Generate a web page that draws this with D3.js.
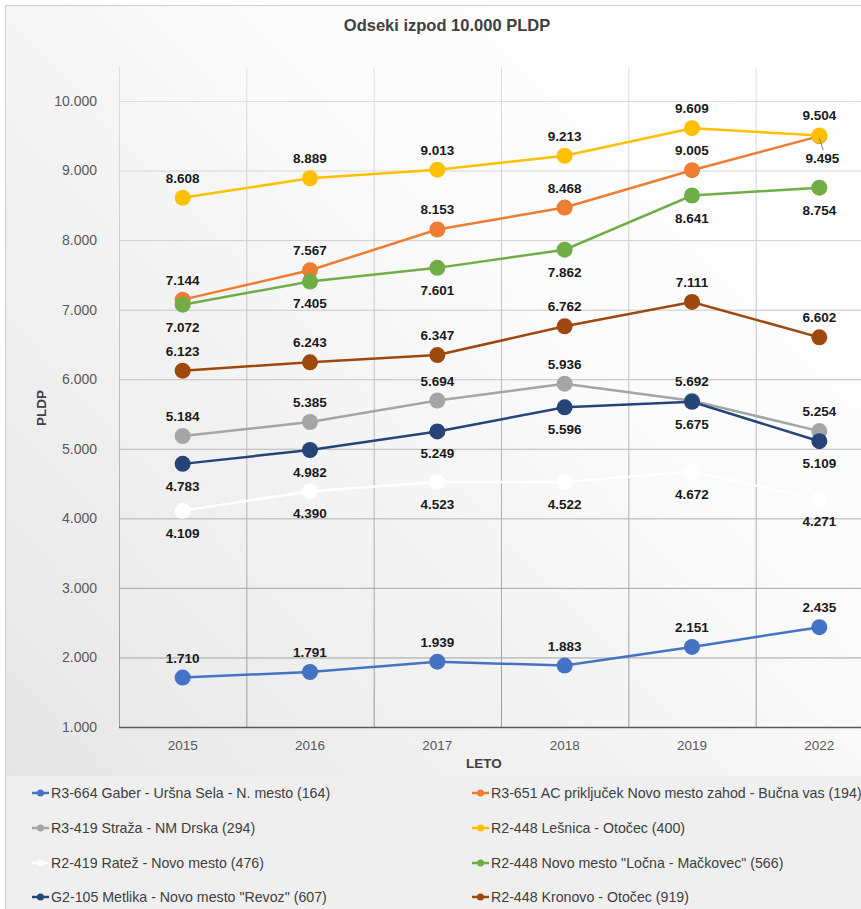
<!DOCTYPE html>
<html>
<head>
<meta charset="utf-8">
<script src="https://cdn.jsdelivr.net/npm/d3@7"></script>
<style>
  body { margin: 0; background: #fff; }
  svg { display: block; font-family: "Liberation Sans", Arial, sans-serif; }
</style>
</head>
<body>
<svg id="chart" width="861" height="909"></svg>
<script>
// data
var years = ["2015", "2016", "2017", "2018", "2019", "2022"];
var yTicks = [1000, 2000, 3000, 4000, 5000, 6000, 7000, 8000, 9000, 10000];

var gaberUrsna   = [1710, 1791, 1939, 1883, 2151, 2435];
var acPrikljucek = [7144, 7567, 8153, 8468, 9005, 9495];
var strazaDrska  = [5184, 5385, 5694, 5936, 5692, 5254];
var lesnica      = [8608, 8889, 9013, 9213, 9609, 9504];
var ratez        = [4109, 4390, 4523, 4522, 4672, 4271];
var locna        = [7072, 7405, 7601, 7862, 8641, 8754];
var metlika      = [4783, 4982, 5249, 5596, 5675, 5109];
var kronovo      = [6123, 6243, 6347, 6762, 7111, 6602];

var seriesNames = [
  "R3-664 Gaber - Uršna Sela - N. mesto (164)",
  "R3-651 AC priključek Novo mesto zahod - Bučna vas (194)",
  "R3-419 Straža - NM Drska (294)",
  "R2-448 Lešnica - Otočec (400)",
  "R2-419 Ratež - Novo mesto (476)",
  "R2-448 Novo mesto \"Ločna - Mačkovec\" (566)",
  "G2-105 Metlika - Novo mesto \"Revoz\" (607)",
  "R2-448 Kronovo - Otočec (919)"
];
var seriesColors = ["#4472c4", "#ed7d31", "#a5a5a5", "#ffc000", "#ffffff", "#70ad47", "#264478", "#9e480e"];
var seriesValues = [gaberUrsna, acPrikljucek, strazaDrska, lesnica, ratez, locna, metlika, kronovo];
// label above (-1) or below (+1) the point
var labelSide = [-1, -1, -1, -1, 1, 1, 1, -1];

var svg = d3.select("#chart");
var fmt = function(v) { return d3.format(",.3f")(v / 1000).replace(/,/g, ""); };
var fmtTick = function(v) { return d3.format(",.3f")(v / 1000); };

// background gradients
var defs = svg.append("defs");
var bg = defs.append("linearGradient").attr("id", "bg")
    .attr("x1", "100%").attr("y1", "0%").attr("x2", "0%").attr("y2", "100%");
bg.append("stop").attr("offset", "0%").attr("stop-color", "#ffffff");
bg.append("stop").attr("offset", "35%").attr("stop-color", "#fbfbfb");
bg.append("stop").attr("offset", "100%").attr("stop-color", "#e3e3e3");

var gridGrad = defs.append("linearGradient").attr("id", "gridv")
    .attr("gradientUnits", "userSpaceOnUse")
    .attr("x1", 0).attr("y1", 67).attr("x2", 0).attr("y2", 727);
gridGrad.append("stop").attr("offset", "0%").attr("stop-color", "#e0e0e0");
gridGrad.append("stop").attr("offset", "100%").attr("stop-color", "#9a9a9a");

svg.append("rect")
    .attr("x", 5.5).attr("y", 5.5).attr("width", 880).attr("height", 920)
    .attr("fill", "url(#bg)").attr("stroke", "#d0d0d0");

// legend band
svg.append("rect")
    .attr("x", 6).attr("y", 776).attr("width", 870).attr("height", 140)
    .attr("fill", "#efefef");

var x = d3.scaleBand().domain(years).range([119, 883]).padding(0);
var y = d3.scaleLinear().domain([1000, 10000]).range([727, 101]);

// gridlines
var gridColor = d3.scaleLinear().domain([101, 727]).range(["#dedede", "#9a9a9a"]);
svg.append("g").selectAll("line.h")
    .data(yTicks.slice(1))
  .enter().append("line")
    .attr("x1", 119).attr("x2", 870)
    .attr("y1", function(d) { return y(d) + 0.5; })
    .attr("y2", function(d) { return y(d) + 0.5; })
    .attr("stroke", function(d) { return gridColor(y(d)); })
    .attr("stroke-width", 1);

svg.append("g").selectAll("line.v")
    .data(years)
  .enter().append("line")
    .attr("x1", function(d) { return x(d) + 0.5; })
    .attr("x2", function(d) { return x(d) + 0.5; })
    .attr("y1", 67).attr("y2", 727)
    .attr("stroke", "url(#gridv)").attr("stroke-width", 1);
svg.append("line")
    .attr("x1", x("2022") + x.bandwidth() + 0.5).attr("x2", x("2022") + x.bandwidth() + 0.5)
    .attr("y1", 67).attr("y2", 727)
    .attr("stroke", "url(#gridv)");

// x axis line
svg.append("line")
    .attr("x1", 119).attr("x2", 870).attr("y1", 727.5).attr("y2", 727.5)
    .attr("stroke", "#595959").attr("stroke-width", 1.3);

// y tick labels
svg.append("g").selectAll("text")
    .data(yTicks)
  .enter().append("text")
    .attr("x", 97).attr("y", function(d) { return y(d); })
    .attr("dy", "0.35em").attr("text-anchor", "end")
    .attr("font-size", 14).attr("fill", "#595959")
    .text(fmtTick);

// x tick labels
svg.append("g").selectAll("text")
    .data(years)
  .enter().append("text")
    .attr("x", function(d) { return x(d) + x.bandwidth() / 2; })
    .attr("y", 750).attr("text-anchor", "middle")
    .attr("font-size", 13.5).attr("fill", "#595959")
    .text(function(d) { return d; });

// titles
svg.append("text")
    .attr("x", 447).attr("y", 31).attr("text-anchor", "middle")
    .attr("font-size", 16.5).attr("font-weight", "bold").attr("fill", "#404040")
    .text("Odseki izpod 10.000 PLDP");

svg.append("text")
    .attr("x", 484).attr("y", 768).attr("text-anchor", "middle")
    .attr("font-size", 13.5).attr("font-weight", "bold").attr("fill", "#404040")
    .text("LETO");

svg.append("text")
    .attr("transform", "translate(46,408) rotate(-90)")
    .attr("text-anchor", "middle")
    .attr("font-size", 13.5).attr("font-weight", "bold").attr("fill", "#404040")
    .text("PLDP");

var line = d3.line()
    .x(function(d, i) { return x(years[i]) + x.bandwidth() / 2; })
    .y(function(d) { return y(d); });

// lines and markers
seriesValues.forEach(function(vals, s) {
  var g = svg.append("g");
  g.append("path")
      .datum(vals)
      .attr("fill", "none")
      .attr("stroke", seriesColors[s])
      .attr("stroke-width", 2.5)
      .attr("d", line);
  g.selectAll("circle")
      .data(vals)
    .enter().append("circle")
      .attr("cx", function(d, i) { return x(years[i]) + x.bandwidth() / 2; })
      .attr("cy", function(d) { return y(d); })
      .attr("r", 8)
      .attr("fill", seriesColors[s]);
});

// data labels
seriesValues.forEach(function(vals, s) {
  svg.append("g").selectAll("text")
      .data(vals)
    .enter().append("text")
      .attr("x", function(d, i) { return x(years[i]) + x.bandwidth() / 2; })
      .attr("y", function(d, i) {
        var side = labelSide[s];
        if (s === 1 && i === 5) side = 1;
        return y(d) + (side < 0 ? -15 : 27);
      })
      .attr("dx", function(d, i) { return (s === 1 && i === 5) ? 3 : 0; })
      .attr("text-anchor", "middle")
      .attr("font-size", 13.5).attr("font-weight", "bold").attr("fill", "#1a1a1a")
      .text(fmt);
});

// leader line for the 2022 orange label
var lx = x("2022") + x.bandwidth() / 2;
svg.append("line")
    .attr("x1", lx).attr("y1", y(acPrikljucek[5]) + 2)
    .attr("x2", lx + 4).attr("y2", y(acPrikljucek[5]) + 14)
    .attr("stroke", "#7f7f7f").attr("stroke-width", 1);

// legend
var legendX = [32, 472];
var legendY = [793, 828, 863, 897];
var legend = svg.append("g").selectAll("g")
    .data(seriesNames)
  .enter().append("g")
    .attr("transform", function(d, i) {
      return "translate(" + legendX[i % 2] + "," + legendY[Math.floor(i / 2)] + ")";
    });
legend.append("line")
    .attr("x1", 0).attr("x2", 17).attr("y1", 0).attr("y2", 0)
    .attr("stroke", function(d, i) { return seriesColors[i]; })
    .attr("stroke-width", 2.5);
legend.append("circle")
    .attr("cx", 8.5).attr("cy", 0).attr("r", 3.5)
    .attr("fill", function(d, i) { return seriesColors[i]; });
legend.append("text")
    .attr("x", 19).attr("dy", "0.35em")
    .attr("font-size", 14.2).attr("fill", "#404040")
    .text(function(d) { return d; });
</script>
</body>
</html>
